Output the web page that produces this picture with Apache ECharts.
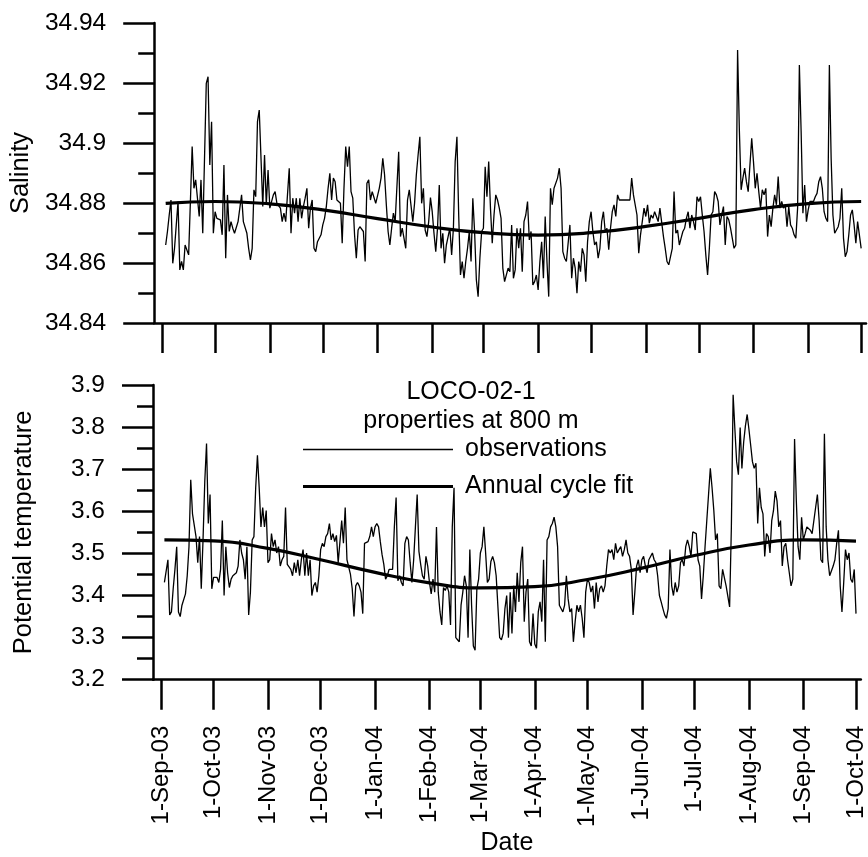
<!DOCTYPE html>
<html>
<head>
<meta charset="utf-8">
<title>LOCO-02-1 properties at 800 m</title>
<script src="https://cdn.jsdelivr.net/npm/echarts@6/dist/echarts.min.js"></script>
<style>
  html, body { margin: 0; padding: 0; background: #fff; }
  #chart { width: 868px; height: 857px; }
</style>
</head>
<body>
<div id="chart"></div>
<script>
// daily observations, first value on 2003-09-03
const firstDay = '2003-09-03';

const salinity = [
  34.8660, 34.8705, 34.8760, 34.8810, 34.8599, 34.8649, 34.8727, 34.8805, 34.8577, 34.8605,
  34.8577, 34.8660, 34.8666, 34.8627, 34.8805, 34.8988, 34.8849, 34.8877, 34.8871, 34.8755,
  34.8877, 34.8699, 34.8949, 34.9199, 34.9221, 34.8927, 34.9071, 34.8699, 34.8771, 34.8749,
  34.8747, 34.8744, 34.8694, 34.8927, 34.8616, 34.8827, 34.8705, 34.8738, 34.8716, 34.8699,
  34.8699, 34.8738, 34.8783, 34.8827, 34.8738, 34.8733, 34.8699, 34.8649, 34.8610, 34.8649,
  34.8844, 34.8821, 34.9071, 34.9110, 34.8949, 34.8788, 34.8960, 34.8794, 34.8910, 34.8783,
  34.8777, 34.8827, 34.8838, 34.8799, 34.8805, 34.8783, 34.8738, 34.8766, 34.8738, 34.8827,
  34.8916, 34.8699, 34.8816, 34.8766, 34.8816, 34.8738, 34.8816, 34.8749, 34.8788, 34.8816,
  34.8849, 34.8716, 34.8783, 34.8810, 34.8649, 34.8638, 34.8671, 34.8666, 34.8694, 34.8727,
  34.8749, 34.8788, 34.8849, 34.8899, 34.8810, 34.8883,
  34.8871, 34.8810, 34.8805, 34.8799, 34.8666, 34.8849, 34.8988, 34.8921, 34.8988, 34.8838,
  34.8816, 34.8694, 34.8616, 34.8710, 34.8721, 34.8727, 34.8705, 34.8605, 34.8866, 34.8877,
  34.8810, 34.8838, 34.8838, 34.8799, 34.8805, 34.8849, 34.8883, 34.8949, 34.8894, 34.8794,
  34.8705, 34.8660, 34.8716, 34.8766, 34.8738, 34.8738, 34.8971, 34.8688, 34.8716, 34.8683,
  34.8649, 34.8810, 34.8844, 34.8849, 34.8738, 34.8799, 34.8894, 34.8960, 34.9021, 34.8799,
  34.8849, 34.8710, 34.8688, 34.8738, 34.8818, 34.8771, 34.8699, 34.8638, 34.8716, 34.8860,
  34.8649, 34.8699, 34.8599, 34.8660, 34.8688, 34.8716, 34.8627, 34.8716, 34.8938, 34.9021,
  34.8760, 34.8560, 34.8605, 34.8549, 34.8605, 34.8649, 34.8705, 34.8605, 34.8816, 34.8705,
  34.8544, 34.8488, 34.8616, 34.8705, 34.8716, 34.8921, 34.8821, 34.8938, 34.8783, 34.8666,
  34.8760, 34.8827, 34.8810, 34.8783, 34.8749, 34.8583, 34.8538, 34.8538, 34.8583, 34.8571,
  34.8727, 34.8549,
  34.8577, 34.8716, 34.8649, 34.8716, 34.8571, 34.8738, 34.8760, 34.8805, 34.8677, 34.8705,
  34.8527, 34.8538, 34.8560, 34.8510, 34.8605, 34.8671, 34.8549, 34.8755, 34.8605, 34.8488,
  34.8849, 34.8794, 34.8849, 34.8849, 34.8883, 34.8916, 34.8849, 34.8638, 34.8616, 34.8605,
  34.8605, 34.8727, 34.8549, 34.8616, 34.8583, 34.8499, 34.8605, 34.8571, 34.8649, 34.8627,
  34.8538, 34.8671, 34.8738, 34.8771, 34.8705, 34.8660, 34.8671, 34.8616, 34.8649, 34.8738,
  34.8771, 34.8705, 34.8716, 34.8644, 34.8716, 34.8771, 34.8794, 34.8755, 34.8827, 34.8810,
  34.8810, 34.8810, 34.8810, 34.8810, 34.8810, 34.8810, 34.8883, 34.8827, 34.8821, 34.8760,
  34.8633, 34.8694, 34.8738, 34.8783, 34.8755, 34.8794, 34.8733, 34.8760, 34.8749, 34.8771,
  34.8755, 34.8738, 34.8783, 34.8788, 34.8688, 34.8649, 34.8605, 34.8594, 34.8588, 34.8649,
  34.8838, 34.8699, 34.8710, 34.8660, 34.8683, 34.8705, 34.8716, 34.8749, 34.8771, 34.8716,
  34.8760,
  34.8738, 34.8710, 34.8821, 34.8805, 34.8821, 34.8760, 34.8705, 34.8627, 34.8560, 34.8649,
  34.8760, 34.8771, 34.8838, 34.8827, 34.8805, 34.8727, 34.8760, 34.8788, 34.8660, 34.8755,
  34.8744, 34.8716, 34.8716, 34.8649, 34.8660, 34.9310, 34.9044, 34.8844, 34.8883, 34.8916,
  34.8871, 34.8838, 34.8927, 34.9016, 34.8938, 34.8849, 34.8899, 34.8838, 34.8783, 34.8844,
  34.8827, 34.8849, 34.8688, 34.8760, 34.8721, 34.8783, 34.8827, 34.8794, 34.8888, 34.8783,
  34.8805, 34.8783, 34.8794, 34.8721, 34.8788, 34.8727, 34.8716, 34.8694, 34.8683, 34.8783,
  34.9260, 34.9038, 34.8766, 34.8860, 34.8738, 34.8777, 34.8805, 34.8799, 34.8805, 34.8821,
  34.8832, 34.8871, 34.8888, 34.8849, 34.8771, 34.8749, 34.8738, 34.9260, 34.8949, 34.8760,
  34.8699, 34.8705, 34.8721, 34.8749, 34.8849, 34.8683, 34.8621, 34.8638, 34.8694, 34.8760,
  34.8777, 34.8727, 34.8666, 34.8738, 34.8733, 34.8649
];

const temperature = [
  3.431, 3.427, 3.485, 3.354, 3.361, 3.416, 3.462, 3.516, 3.361, 3.350,
  3.377, 3.381, 3.404, 3.447, 3.516, 3.675, 3.594, 3.594, 3.540, 3.478,
  3.540, 3.416, 3.532, 3.671, 3.761, 3.571, 3.640, 3.416, 3.443, 3.439,
  3.443, 3.431, 3.462, 3.578, 3.400, 3.516, 3.454, 3.419, 3.439, 3.447,
  3.443, 3.454, 3.470, 3.532, 3.501, 3.485, 3.439, 3.516, 3.354, 3.408,
  3.532, 3.540, 3.656, 3.733, 3.656, 3.563, 3.609, 3.563, 3.602, 3.478,
  3.485, 3.547, 3.516, 3.532, 3.501, 3.516, 3.470, 3.485, 3.493, 3.609,
  3.474, 3.478, 3.462, 3.447, 3.478, 3.454, 3.485, 3.447, 3.485, 3.509,
  3.447, 3.501, 3.447, 3.485, 3.400, 3.423, 3.431, 3.408, 3.447, 3.509,
  3.524, 3.516, 3.540, 3.547, 3.571, 3.532,
  3.547, 3.528, 3.543, 3.478, 3.478, 3.578, 3.524, 3.609, 3.485, 3.485,
  3.450, 3.416, 3.350, 3.423, 3.431, 3.423, 3.408, 3.357, 3.524, 3.520,
  3.528, 3.540, 3.563, 3.540, 3.563, 3.571, 3.563, 3.528, 3.497, 3.474,
  3.439, 3.447, 3.462, 3.466, 3.462, 3.563, 3.633, 3.435, 3.447, 3.431,
  3.423, 3.524, 3.540, 3.532, 3.478, 3.431, 3.485, 3.563, 3.640, 3.505,
  3.474, 3.447, 3.439, 3.493, 3.470, 3.431, 3.404, 3.439, 3.408, 3.563,
  3.408, 3.361, 3.330, 3.419, 3.412, 3.423, 3.408, 3.330, 3.563, 3.656,
  3.300, 3.295, 3.290, 3.377, 3.408, 3.447, 3.423, 3.300, 3.509, 3.377,
  3.280, 3.270, 3.416, 3.439, 3.501, 3.516, 3.563, 3.501, 3.431, 3.439,
  3.481, 3.493, 3.478, 3.447, 3.447, 3.300, 3.295, 3.310, 3.369, 3.400,
  3.300, 3.408,
  3.310, 3.423, 3.361, 3.454, 3.385, 3.478, 3.516, 3.338, 3.408, 3.439,
  3.290, 3.280, 3.357, 3.285, 3.275, 3.361, 3.385, 3.338, 3.485, 3.290,
  3.532, 3.540, 3.563, 3.571, 3.586, 3.563, 3.516, 3.377, 3.377, 3.361,
  3.377, 3.447, 3.392, 3.361, 3.369, 3.290, 3.338, 3.377, 3.361, 3.377,
  3.346, 3.300, 3.408, 3.439, 3.431, 3.408, 3.423, 3.369, 3.431, 3.385,
  3.416, 3.423, 3.408, 3.423, 3.470, 3.509, 3.501, 3.509, 3.485, 3.524,
  3.501, 3.509, 3.516, 3.493, 3.509, 3.532, 3.501, 3.493, 3.462, 3.354,
  3.408, 3.470, 3.485, 3.454, 3.485, 3.493, 3.470, 3.454, 3.485, 3.485,
  3.501, 3.485, 3.478, 3.447, 3.400, 3.385, 3.369, 3.354, 3.346, 3.369,
  3.509, 3.423, 3.400, 3.431, 3.408, 3.423, 3.478, 3.485, 3.470, 3.516,
  3.532,
  3.516, 3.493, 3.551, 3.555, 3.547, 3.485, 3.470, 3.392, 3.447, 3.516,
  3.578, 3.640, 3.702, 3.656, 3.602, 3.532, 3.547, 3.423, 3.416, 3.462,
  3.462, 3.423, 3.423, 3.373, 3.563, 3.877, 3.795, 3.718, 3.687, 3.799,
  3.702, 3.764, 3.803, 3.830, 3.795, 3.757, 3.718, 3.702, 3.714, 3.571,
  3.656, 3.609, 3.594, 3.493, 3.547, 3.540, 3.501, 3.578, 3.602, 3.648,
  3.625, 3.563, 3.578, 3.470, 3.516, 3.524, 3.485, 3.454, 3.423, 3.439,
  3.772, 3.625, 3.516, 3.485, 3.586, 3.532, 3.547, 3.563, 3.563, 3.555,
  3.547, 3.547, 3.609, 3.640, 3.578, 3.485, 3.478, 3.784, 3.563, 3.485,
  3.447, 3.447, 3.470, 3.485, 3.524, 3.555, 3.423, 3.361, 3.431, 3.509,
  3.485, 3.501, 3.439, 3.431, 3.462, 3.357
];

// annual cycle fit, read at the start of each month
const fitDates = ['2003-09-03', '2003-10-01', '2003-11-01', '2003-12-01', '2004-01-01', '2004-02-01', '2004-03-01',
  '2004-04-01', '2004-05-01', '2004-06-01', '2004-07-01', '2004-08-01', '2004-09-01', '2004-10-01'];
const salinityFit = [34.8799, 34.8805, 34.8797, 34.8777, 34.8748, 34.8720, 34.8701,
  34.8693, 34.8701, 34.8722, 34.8749, 34.8778, 34.8798, 34.8805];
const temperatureFit = [3.532, 3.530, 3.512, 3.485, 3.455, 3.430, 3.418,
  3.421, 3.438, 3.465, 3.495, 3.520, 3.532, 3.529];

const tickDates = ['2003-09-01', '2003-10-01', '2003-11-01', '2003-12-01', '2004-01-01', '2004-02-01', '2004-03-01',
  '2004-04-01', '2004-05-01', '2004-06-01', '2004-07-01', '2004-08-01', '2004-09-01', '2004-10-01'];
const monthNames = ['Jan', 'Feb', 'Mar', 'Apr', 'May', 'Jun', 'Jul', 'Aug', 'Sep', 'Oct', 'Nov', 'Dec'];

const DAY = 86400000;
const t0 = Date.parse(firstDay);
const toPairs = vals => vals.map((v, i) => [t0 + i * DAY, v]);
const fitPairs = vals => vals.map((v, i) => [Date.parse(fitDates[i]), v]);
const tickTimes = tickDates.map(d => Date.parse(d));

const axisStart = Date.parse('2003-08-27T12:00:00Z');
const axisEnd = Date.parse('2004-10-03T18:00:00Z');

const font = '"Liberation Sans", Arial, Helvetica, sans-serif';
const black = '#000';

function dateLabel(value) {
  const d = new Date(value);
  return d.getUTCDate() + '-' + monthNames[d.getUTCMonth()] + '-' + String(d.getUTCFullYear()).slice(2);
}

// time in ms on a plain value axis, ticks only at month starts
function xAxis(gridIndex, withLabels) {
  return {
    type: 'value',
    gridIndex: gridIndex,
    min: axisStart,
    max: axisEnd,
    axisLine: { show: true, onZero: false, lineStyle: { color: black, width: 2.5 } },
    axisTick: { show: true, length: 30, customValues: tickTimes, lineStyle: { color: black, width: 2.5 } },
    axisLabel: {
      show: withLabels, customValues: tickTimes, rotate: 90, margin: 46, formatter: dateLabel,
      color: black, fontSize: 24, fontFamily: font
    },
    splitLine: { show: false },
    name: withLabels ? 'Date' : '',
    nameLocation: 'middle',
    nameGap: 148,
    nameTextStyle: { color: black, fontSize: 25, fontFamily: font }
  };
}

function yAxis(gridIndex, min, max, interval, name) {
  return {
    type: 'value',
    gridIndex: gridIndex,
    min: min,
    max: max,
    interval: interval,
    axisLine: { show: true, onZero: false, lineStyle: { color: black, width: 2.5 } },
    axisTick: { show: true, length: 31, lineStyle: { color: black, width: 2.5 } },
    minorTick: { show: true, splitNumber: 2, length: 16, lineStyle: { color: black, width: 2.5 } },
    axisLabel: { margin: 48, color: black, fontSize: 24.5, fontFamily: font },
    splitLine: { show: false },
    minorSplitLine: { show: false },
    name: name,
    nameLocation: 'middle',
    nameRotate: 90,
    nameGap: 116,
    nameTextStyle: { color: black, fontSize: 25.5, fontFamily: font }
  };
}

function obsSeries(axis, vals) {
  return {
    name: 'observations', type: 'line', xAxisIndex: axis, yAxisIndex: axis,
    data: toPairs(vals), symbol: 'none', showSymbol: false,
    itemStyle: { color: black }, lineStyle: { color: black, width: 1.3 }, z: 2
  };
}

function fitSeries(axis, vals) {
  return {
    name: 'Annual cycle fit', type: 'line', xAxisIndex: axis, yAxisIndex: axis,
    data: fitPairs(vals), smooth: true, symbol: 'none', showSymbol: false,
    itemStyle: { color: black }, lineStyle: { color: black, width: 3.2 }, z: 3
  };
}

const chart = echarts.init(document.getElementById('chart'), null, { renderer: 'canvas' });

chart.setOption({
  animation: false,
  backgroundColor: '#fff',
  textStyle: { fontFamily: font },
  grid: [
    { left: 153, top: 23, width: 713, height: 300 },
    { left: 153, top: 385, width: 713, height: 301 }
  ],
  xAxis: [xAxis(0, false), xAxis(1, true)],
  yAxis: [
    yAxis(0, 34.84, 34.94, 0.02, 'Salinity'),
    yAxis(1, 3.2, 3.9, 0.1, 'Potential temperature')
  ],
  legend: {
    data: [
      { name: 'observations', icon: 'path://M0,0H150V1.3H0Z' },
      { name: 'Annual cycle fit', icon: 'path://M0,0H150V3.2H0Z' }
    ],
    orient: 'vertical',
    left: 303,
    top: 437,
    padding: 0,
    itemWidth: 150,
    itemHeight: 25,
    itemGap: 12,
    symbolKeepAspect: true,
    selectedMode: false,
    textStyle: { color: black, fontSize: 25, fontFamily: font, padding: [0, 0, 0, 7] }
  },
  graphic: [{
    type: 'text',
    x: 471,
    y: 378,
    style: {
      text: 'LOCO-02-1\nproperties at 800 m',
      align: 'center',
      verticalAlign: 'top',
      fontSize: 25,
      fontFamily: font,
      lineHeight: 29,
      fill: black
    }
  }],
  series: [
    obsSeries(0, salinity),
    fitSeries(0, salinityFit),
    obsSeries(1, temperature),
    fitSeries(1, temperatureFit)
  ]
});
</script>
</body>
</html>
